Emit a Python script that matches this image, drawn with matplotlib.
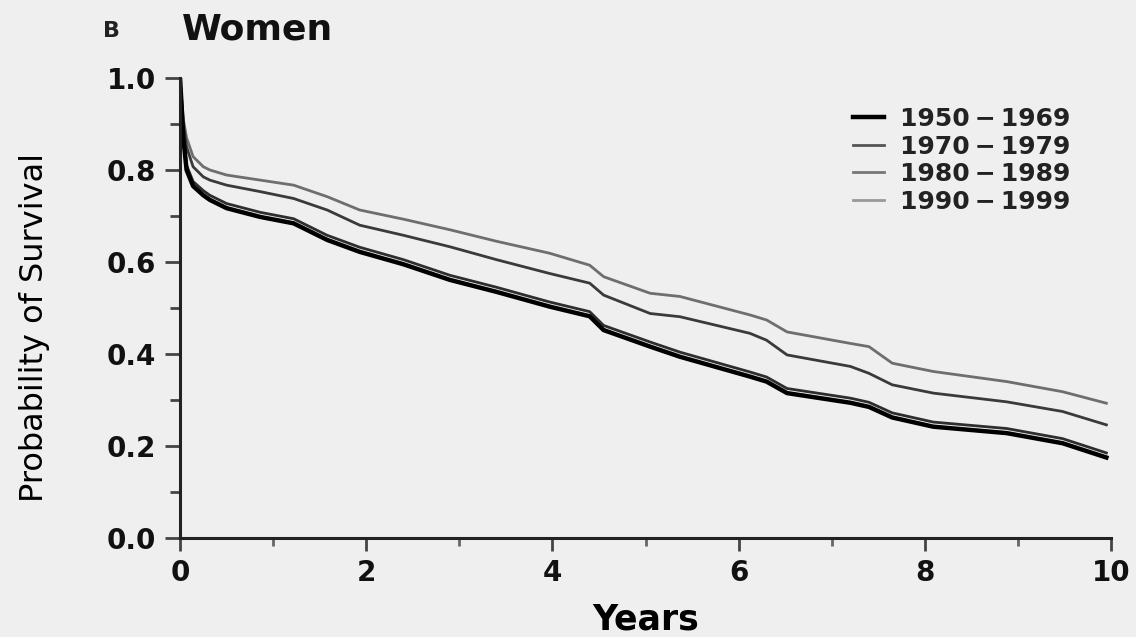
import matplotlib.pyplot as plt
from matplotlib.ticker import MultipleLocator

# survival estimates
years = [0, 0.035, 0.07, 0.14, 0.25, 0.32, 0.5, 0.86, 1.22, 1.58, 1.93, 2.4, 2.9, 3.4,
         3.97, 4.4, 4.55, 5.05, 5.37, 6.12, 6.3, 6.52, 7.2, 7.4, 7.65, 8.09, 8.88,
         9.48, 9.95]

s_1950 = [1.0, 0.87, 0.80, 0.765, 0.745, 0.735, 0.717, 0.698, 0.684, 0.648, 0.622,
          0.595, 0.561, 0.535, 0.503, 0.482, 0.452, 0.416, 0.394, 0.351, 0.340, 0.315,
          0.294, 0.285, 0.262, 0.242, 0.228, 0.206, 0.175]
s_1970 = [1.0, 0.88, 0.81, 0.775, 0.755, 0.745, 0.727, 0.708, 0.694, 0.658, 0.632,
          0.605, 0.571, 0.545, 0.513, 0.492, 0.462, 0.426, 0.404, 0.361, 0.350, 0.325,
          0.304, 0.295, 0.272, 0.252, 0.238, 0.216, 0.185]
s_1980 = [1.0, 0.90, 0.85, 0.807, 0.785, 0.778, 0.767, 0.753, 0.738, 0.713, 0.680,
          0.658, 0.633, 0.605, 0.575, 0.554, 0.528, 0.488, 0.481, 0.445, 0.430, 0.398,
          0.373, 0.358, 0.333, 0.315, 0.296, 0.275, 0.246]
s_1990 = [1.0, 0.91, 0.87, 0.829, 0.807, 0.800, 0.789, 0.778, 0.767, 0.742, 0.713,
          0.693, 0.670, 0.645, 0.619, 0.593, 0.568, 0.532, 0.525, 0.485, 0.474, 0.448,
          0.423, 0.416, 0.380, 0.362, 0.340, 0.318, 0.293]

dash = "\u2009\u2212\u2009"
labels = ["1950" + dash + "1969", "1970" + dash + "1979",
          "1980" + dash + "1989", "1990" + dash + "1999"]
series = [s_1950, s_1970, s_1980, s_1990]
colors = ["#000000", "#2e2e2e", "#3a3a3a", "#6e6e6e"]
widths = [3.2, 2.0, 2.0, 2.0]

bg = "#efefef"
fig = plt.figure(figsize=(11.36, 6.37), dpi=100, facecolor=bg)
ax = fig.add_axes([0.1585, 0.1554, 0.8195, 0.7222], facecolor=bg)

# black cohort drawn last so it stays on top
for i in [3, 2, 1, 0]:
    ax.plot(years, series[i], color=colors[i], lw=widths[i], label=labels[i])

ax.set_xlim(0, 10)
ax.set_ylim(0, 1.0)
ax.spines["top"].set_visible(False)
ax.spines["right"].set_visible(False)
for side in ["left", "bottom"]:
    ax.spines[side].set_linewidth(2.2)
    ax.spines[side].set_color("#222222")

ax.xaxis.set_major_locator(MultipleLocator(2))
ax.xaxis.set_minor_locator(MultipleLocator(1))
ax.yaxis.set_major_locator(MultipleLocator(0.2))
ax.yaxis.set_minor_locator(MultipleLocator(0.1))
ax.tick_params(axis="y", which="major", length=11, width=2, color="#444444",
               labelsize=20, pad=6)
ax.tick_params(axis="y", which="minor", length=7, width=2, color="#444444")
ax.tick_params(axis="x", which="major", length=9, width=2, color="#444444",
               labelsize=20, pad=6)
ax.tick_params(axis="x", which="minor", length=6, width=2, color="#666666")
ax.set_yticks([0, 0.2, 0.4, 0.6, 0.8, 1.0])
ax.set_yticklabels(["0.0", "0.2", "0.4", "0.6", "0.8", "1.0"])
for lab in ax.get_xticklabels() + ax.get_yticklabels():
    lab.set_fontweight("bold")
    lab.set_color("#111111")

ax.set_xlabel("Years", fontsize=25, fontweight="bold")
ax.xaxis.set_label_coords(0.5, -0.178)
ax.xaxis.label.set_va("center")
ax.set_ylabel("Probability of Survival", fontsize=23)
ax.yaxis.set_label_coords(-0.156, 0.457)
ax.yaxis.label.set_va("center")

fig.text(0.091, 0.951, "B", fontsize=16, fontweight="bold", va="center", color="#222222")
fig.text(0.160, 0.953, "Women", fontsize=26, fontweight="bold", va="center", color="#111111")

handles, labs = ax.get_legend_handles_labels()
order = [labs.index(l) for l in labels]
leg = ax.legend([handles[i] for i in order], [labs[i] for i in order],
                loc="upper left", bbox_to_anchor=(853 / 1136, 0.832),
                bbox_transform=fig.transFigure, frameon=False, borderpad=0,
                borderaxespad=0, fontsize=18, handlelength=1.25, handletextpad=0.65,
                labelspacing=0.14)
for t in leg.get_texts():
    t.set_fontweight("bold")
    t.set_color("#222222")
leg_colors = ["#000000", "#555555", "#777777", "#999999"]
for line, c in zip(leg.get_lines(), leg_colors):
    line.set_color(c)

fig.savefig("out.png", dpi=100, facecolor=bg)
